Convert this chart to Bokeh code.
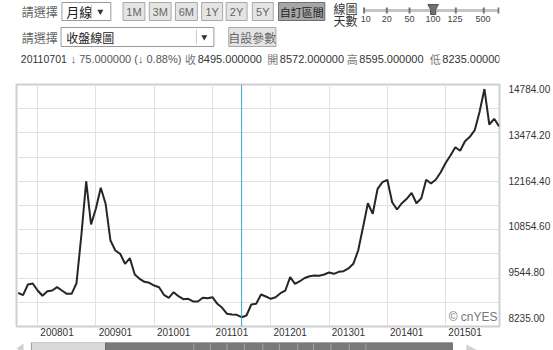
import numpy as np
from bokeh.plotting import figure
from bokeh.layouts import column
from bokeh.models import Range1d, FixedTicker, PrintfTickFormatter, Span, Label
from bokeh.core.properties import value
from bokeh.embed import file_html
from bokeh.resources import INLINE

# ---------------- data ----------------
# month index: 0 = 2008-01 ; series runs 2007-09 .. 2015-12 (monthly close)
months = list(range(-4, 96))
close = [8956, 8887, 9193, 9222,
         9021, 8870, 9001, 9021, 9116, 9021, 8927, 8927, 9230, 10594, 12147, 10909,
         11366, 11958, 11501, 10451, 10165, 10071, 9785, 9945, 9479, 9356, 9270, 9242,
         9164, 9116, 8898, 8813, 8973, 8858, 8773, 8784, 8707, 8707, 8813, 8801,
         8830, 8641, 8527, 8355, 8335, 8327, 8258, 8306, 8621, 8641, 8907, 8850,
         8784, 8830, 8944, 9021, 9402, 9213, 9287, 9379, 9430, 9450, 9442, 9479,
         9536, 9499, 9556, 9573, 9651, 9785, 10165, 10832, 11518, 11215, 11930, 12119,
         12187, 11547, 11338, 11518, 11644, 11815, 11518, 11658, 12190, 12081, 12196, 12405,
         12668, 12882, 13120, 13017, 13291, 13417, 13606, 14135, 14784, 13769, 13932, 13717]
cursor_month = 42                       # 2011-07
y_tick_values = [8235.00, 9544.80, 10854.60, 12164.40, 13474.20, 14784.00]
year_starts = [0, 12, 24, 36, 48, 60, 72, 84]
x_tick_labels = ["200801", "200901", "201001", "201101", "201201", "201301", "201401", "201501"]

info_date = "20110701"
info_change = "\u2193 75.000000 (\u2193 0.88%)"
info_keys = ["收", "開", "高", "低"]
info_vals = ["8495.000000", "8572.000000", "8595.000000", "8235.000000"]
period_buttons = ["1M", "3M", "6M", "1Y", "2Y", "5Y"]
slider_labels = ["10", "20", "50", "100", "125", "500"]

LAT = "Liberation Sans"
CJK = "Noto Sans CJK TC"

# ---------------- header (pixel space) ----------------
h = figure(width=553, height=80, x_range=Range1d(0, 553), y_range=Range1d(80, 0),
           output_backend="svg", toolbar_location=None, x_axis_type=None, y_axis_type=None,
           min_border=0, outline_line_color=None)
h.grid.visible = False

def txt(fig, x, y, s, size="12px", color="#333333", font=LAT, align="left"):
    fig.text(x=[x], y=[y], text=[s], text_font=value(font), text_font_size=size,
             text_color=color, text_baseline="middle", text_align=align)

def box(fig, l, r, t, b, fill, line):
    fig.quad(left=[l], right=[r], top=[t], bottom=[b], fill_color=fill, line_color=line, line_width=1)

# row 1
txt(h, 6, 11, "請選擇", color="#666666", font=CJK)
box(h, 52, 108, 2, 20, "#ffffff", "#9a9a9a")
txt(h, 57, 11, "月線", size="13px", color="#222222", font=CJK)
h.segment(x0=[86], y0=[4], x1=[86], y1=[18], line_color="#cccccc")
h.scatter(x=[96], y=[11], marker="inverted_triangle", size=6, fill_color="#333333", line_color=None)
bx = [122, 152, 182, 212, 240, 270]
bw = [25, 25, 25, 24, 24, 24]
for x0, w, lab in zip(bx, bw, period_buttons):
    box(h, x0, x0 + w, 2, 20, "#e4e4e4", "#a8a8a8")
    txt(h, x0 + w / 2, 11.5, lab, size="11px", color="#666666", align="center")
box(h, 300, 353, 2, 20, "#a6a6a6", "#6f6f6f")
txt(h, 326.5, 11.5, "自訂區間", size="11px", color="#222222", font=CJK, align="center")
txt(h, 363, 8, "線圖", size="12px", color="#333333", font=CJK)
txt(h, 363, 20, "天數", size="12px", color="#333333", font=CJK)
# slider
h.segment(x0=[397], y0=[10], x1=[553], y1=[10], line_color="#c4c4c4", line_width=3)
sx = [398, 424, 450, 477, 503, 535, 552]
h.segment(x0=sx, y0=[7] * 7, x1=sx, y1=[13] * 7, line_color="#777777", line_width=2)
h.patch(x=[471, 483, 480, 480, 474, 474], y=[4, 4, 9, 14, 14, 9], fill_color="#707070", line_color="#555555")
for x, lab in zip([400, 424, 450, 477, 502, 534], slider_labels):
    txt(h, x, 18.5, lab, size="9px", color="#444444", align="center")

# row 2
txt(h, 6, 36.5, "請選擇", color="#666666", font=CJK)
box(h, 51, 226, 27, 46, "#ffffff", "#9a9a9a")
txt(h, 57, 36.5, "收盤線圖", color="#222222", font=CJK)
h.segment(x0=[206], y0=[29], x1=[206], y1=[44], line_color="#cccccc")
h.scatter(x=[215], y=[36.5], marker="inverted_triangle", size=6, fill_color="#333333", line_color=None)
box(h, 243, 297, 27, 46, "#e4e4e4", "#a8a8a8")
txt(h, 270, 36.5, "自設參數", size="12px", color="#666666", font=CJK, align="center")

# row 3
ry = 58
txt(h, 5, ry, info_date, size="10.5px", color="#333333")
txt(h, 62, ry, info_change, size="11px", color="#555555")
for x, k, v in zip([193, 287, 378, 473], info_keys, info_vals):
    txt(h, x, ry, k, size="11px", color="#777777", font=CJK)
    txt(h, x + 14.5, ry, v, size="11px", color="#333333")

# ---------------- main chart ----------------
YMIN, YMAX = 7992, 14913
p = figure(width=553, height=260, x_range=Range1d(-4.35, 95.1), y_range=Range1d(YMIN, YMAX),
           output_backend="svg", toolbar_location=None, y_axis_location="right",
           min_border_left=16, min_border_right=53, min_border_top=4, min_border_bottom=14,
           outline_line_color="#cfcfcf", outline_line_width=2)

p.xgrid.ticker = FixedTicker(ticks=year_starts)
p.ygrid.ticker = FixedTicker(ticks=list(np.linspace(YMIN, YMAX, 11)[1:-1]))
p.grid.grid_line_color = "#e2e2e2"
p.grid.grid_line_width = 1

# year labels sit to the right of the January grid line in the original
LABEL_SHIFT = 4
xa = p.xaxis[0]
xa.ticker = FixedTicker(ticks=[m + LABEL_SHIFT for m in year_starts])
xa.major_label_overrides = {m + LABEL_SHIFT: s for m, s in zip(year_starts, x_tick_labels)}
ya = p.yaxis[0]
ya.ticker = FixedTicker(ticks=y_tick_values)
ya.formatter = PrintfTickFormatter(format="%.2f")
for ax in (xa, ya):
    ax.axis_line_color = None
    ax.major_tick_line_color = None
    ax.minor_tick_line_color = None
    ax.major_tick_out = 0
    ax.major_tick_in = 0
    ax.minor_tick_out = 0
    ax.major_label_text_font = LAT
    ax.major_label_text_font_size = "10px"
    ax.major_label_text_color = "#333333"
xa.major_label_standoff = 1
ya.major_label_standoff = 9

p.add_layout(Span(location=cursor_month, dimension="height", line_color="#3fa3c8", line_width=1))
p.line(months, close, line_color="#262626", line_width=2)
p.add_layout(Label(x=95.1, y=YMIN, text="© cnYES", text_align="right", text_baseline="bottom",
                   x_offset=-2, y_offset=3, text_font=LAT, text_font_size="12px", text_color="#777777"))

# ---------------- scrollbar ----------------
s = figure(width=553, height=10, x_range=Range1d(0, 553), y_range=Range1d(10, 0),
           output_backend="svg", toolbar_location=None, x_axis_type=None, y_axis_type=None,
           min_border=0, outline_line_color=None)
s.grid.visible = False
s.patch(x=[0, 8, 8], y=[6, 1, 10], fill_color="#cfcfcf", line_color=None)
s.quad(left=[17], right=[102], top=[0], bottom=[11], fill_color="#dadada", line_color="#9a9a9a")
s.quad(left=[102], right=[499], top=[0], bottom=[11], fill_color="#797979", line_color="#666666")
gx = [203, 222, 241, 261, 282, 301, 322, 340, 360, 381, 400]
s.segment(x0=gx, y0=[1] * len(gx), x1=gx, y1=[11] * len(gx), line_color="#a5a5a5")
s.patch(x=[515, 528, 515], y=[2, 8, 12], fill_color="#d0d0d0", line_color=None)

layout = column(h, p, s, spacing=0)
open("out.html", "w").write(file_html(layout, INLINE))
